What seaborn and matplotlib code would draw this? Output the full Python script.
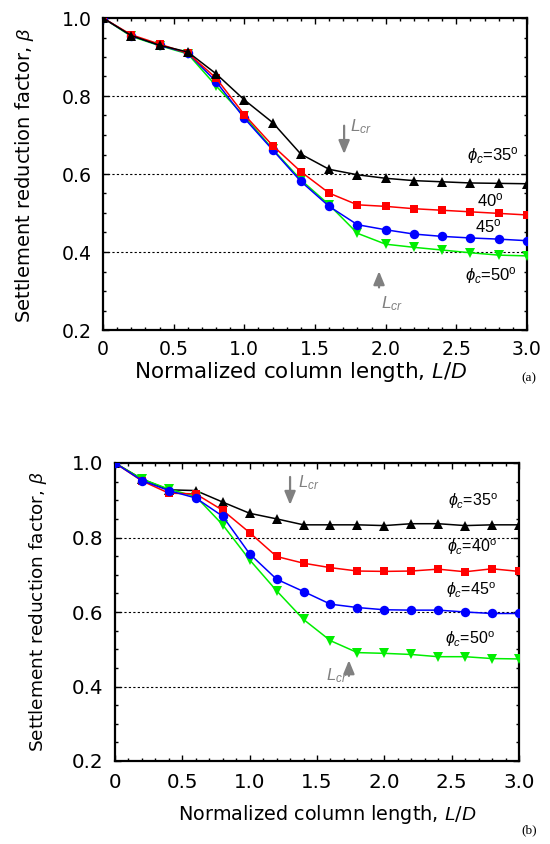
import numpy as np
import pandas as pd
import matplotlib
matplotlib.use("Agg")
import matplotlib.pyplot as plt
from matplotlib.ticker import MultipleLocator, FuncFormatter
import seaborn as sns

sns.set_style("white")
plt.rcParams['font.family'] = ['DejaVu Sans']
plt.rcParams['mathtext.fontset'] = 'custom'
plt.rcParams['mathtext.rm'] = 'Liberation Sans'
plt.rcParams['mathtext.it'] = 'Liberation Sans:italic'
plt.rcParams['mathtext.bf'] = 'Liberation Sans:bold'
plt.rcParams['mathtext.fallback'] = 'stixsans'
plt.rcParams['text.color'] = 'black'
plt.rcParams['axes.labelcolor'] = 'black'

# ---- data ----
LD = [0.0, 0.2, 0.4, 0.6, 0.8, 1.0, 1.2, 1.4, 1.6, 1.8, 2.0, 2.2, 2.4, 2.6, 2.8, 3.0]

# panel (a)
a_35 = [1.0, 0.955, 0.930, 0.913, 0.857, 0.790, 0.732, 0.651, 0.612, 0.598, 0.589, 0.583, 0.580, 0.577, 0.576, 0.575]
a_40 = [1.0, 0.957, 0.933, 0.910, 0.846, 0.752, 0.673, 0.606, 0.551, 0.521, 0.517, 0.511, 0.507, 0.503, 0.499, 0.495]
a_45 = [1.0, 0.955, 0.930, 0.910, 0.837, 0.743, 0.662, 0.581, 0.517, 0.470, 0.457, 0.446, 0.440, 0.436, 0.433, 0.429]
a_50 = [1.0, 0.953, 0.929, 0.908, 0.826, 0.748, 0.664, 0.585, 0.521, 0.448, 0.420, 0.412, 0.405, 0.398, 0.392, 0.390]

# panel (b)
b_35 = [1.0, 0.957, 0.928, 0.926, 0.895, 0.865, 0.850, 0.834, 0.834, 0.834, 0.832, 0.837, 0.837, 0.832, 0.834, 0.834]
b_40 = [1.0, 0.952, 0.919, 0.917, 0.873, 0.813, 0.749, 0.731, 0.719, 0.710, 0.709, 0.710, 0.715, 0.708, 0.716, 0.709]
b_45 = [1.0, 0.953, 0.926, 0.906, 0.857, 0.756, 0.688, 0.655, 0.621, 0.612, 0.606, 0.605, 0.605, 0.600, 0.596, 0.596]
b_50 = [1.0, 0.957, 0.930, 0.910, 0.834, 0.740, 0.657, 0.580, 0.523, 0.491, 0.489, 0.486, 0.480, 0.480, 0.475, 0.474]

y_ticks = [0.2, 0.4, 0.6, 0.8, 1.0]
x_ticks = [0, 0.5, 1.0, 1.5, 2.0, 2.5, 3.0]

styles = {
    '35': dict(color='black', marker='^', ms=7.5),
    '40': dict(color='#ff0000', marker='s', ms=6.3),
    '45': dict(color='#0000ff', marker='o', ms=6.8),
    '50': dict(color='#00ee00', marker='v', ms=7.5),
}

fig = plt.figure(figsize=(5.5, 8.44), dpi=100)
ax1 = fig.add_axes([103/550, 1-330/844, 424/550, 312/844])
ax2 = fig.add_axes([115/550, 1-761/844, 404/550, 298/844])

def draw(ax, series, order):
    for key in order:
        st = styles[key]
        sns.lineplot(x=LD, y=series[key], ax=ax, color=st['color'], marker=st['marker'],
                     markersize=st['ms'], markeredgewidth=0, linewidth=1.1, legend=False, zorder=3)

draw(ax1, {'35': a_35, '40': a_40, '45': a_45, '50': a_50}, ['50', '45', '40', '35'])
draw(ax2, {'35': b_35, '40': b_40, '45': b_45, '50': b_50}, ['35', '50', '40', '45'])

for ax, ypad, xpad, lsize in [(ax1, 8, 7, 13.6), (ax2, 8.5, 8.5, 14.3)]:
    ax.set_xlim(0, 3.0)
    ax.set_ylim(0.2, 1.0)
    ax.set_xticks(x_ticks)
    ax.set_yticks(y_ticks)
    ax.xaxis.set_minor_locator(MultipleLocator(0.1))
    ax.yaxis.set_minor_locator(MultipleLocator(0.05))
    ax.xaxis.set_major_formatter(FuncFormatter(lambda v, p: '0' if abs(v) < 1e-9 else f'{v:.1f}'))
    ax.yaxis.set_major_formatter(FuncFormatter(lambda v, p: f'{v:.1f}'))
    ax.tick_params(which='both', direction='in', top=True, right=True, bottom=True, left=True,
                   colors='black', labelcolor='black', labelsize=lsize)
    ax.tick_params(which='major', length=4, width=1)
    ax.tick_params(which='minor', length=2.5, width=1)
    ax.tick_params(axis='x', which='major', pad=xpad)
    ax.tick_params(axis='y', which='major', pad=ypad)
    for sp in ax.spines.values():
        sp.set_color('black')
        sp.set_linewidth(1.6)
    for gy in [0.4, 0.6, 0.8]:
        ax.axhline(gy, color='black', linestyle=(0, (2, 2)), linewidth=0.8, zorder=1)
    ax.set_xlabel('')
    ax.set_ylabel('')

# axis labels
fig.text(25/550, 1-175/844, r'Settlement reduction factor, $\beta$', rotation=90,
         ha='center', va='center', fontsize=14)
fig.text(301/550, 1-372/844, r'Normalized column length, $L$/$D$', ha='center', va='center', fontsize=15.5)
fig.text(38/550, 1-612/844, r'Settlement reduction factor, $\beta$', rotation=90,
         ha='center', va='center', fontsize=13.3)
fig.text(327/550, 1-814/844, r'Normalized column length, $L$/$D$', ha='center', va='center', fontsize=13.9)

fig.text(529/550, 1-378/844, '(a)', ha='center', va='center', fontsize=9.5, family='Liberation Serif')
fig.text(529/550, 1-830/844, '(b)', ha='center', va='center', fontsize=9.5, family='Liberation Serif')

grey = '#808080'
arrow_kw = dict(arrowstyle='-|>,head_length=0.8,head_width=0.33', color=grey, lw=1.6)
deg = r'$^{\rm o}$'
ann = dict(family='Liberation Sans', ha='left', va='center')

# panel (a) annotations
ax1.annotate('', xy=(1.706, 0.644), xytext=(1.706, 0.731), arrowprops=arrow_kw)
ax1.text(1.75, 0.722, r'$L_{cr}$', color=grey, fontsize=12.5, **ann)
ax1.annotate('', xy=(1.953, 0.358), xytext=(1.953, 0.302), arrowprops=arrow_kw)
ax1.text(1.97, 0.268, r'$L_{cr}$', color=grey, fontsize=12.5, **ann)
ax1.text(2.576, 0.647, r'$\phi_c$=35' + deg, fontsize=12, **ann)
ax1.text(2.647, 0.533, '40' + deg, fontsize=12, **ann)
ax1.text(2.63, 0.467, '45' + deg, fontsize=12, **ann)
ax1.text(2.56, 0.340, r'$\phi_c$=50' + deg, fontsize=12, **ann)

# panel (b) annotations
ax2.annotate('', xy=(1.30, 0.880), xytext=(1.30, 0.970), arrowprops=arrow_kw)
ax2.text(1.36, 0.946, r'$L_{cr}$', color=grey, fontsize=12, **ann)
ax2.annotate('', xy=(1.737, 0.478), xytext=(1.737, 0.421), arrowprops=arrow_kw)
ax2.text(1.57, 0.43, r'$L_{cr}$', color=grey, fontsize=12, **ann)
ax2.text(2.47, 0.898, r'$\phi_c$=35' + deg, fontsize=11.5, **ann)
ax2.text(2.465, 0.773, r'$\phi_c$=40' + deg, fontsize=11.5, **ann)
ax2.text(2.46, 0.658, r'$\phi_c$=45' + deg, fontsize=11.5, **ann)
ax2.text(2.45, 0.528, r'$\phi_c$=50' + deg, fontsize=11.5, **ann)

fig.savefig('out.png', dpi=100)
